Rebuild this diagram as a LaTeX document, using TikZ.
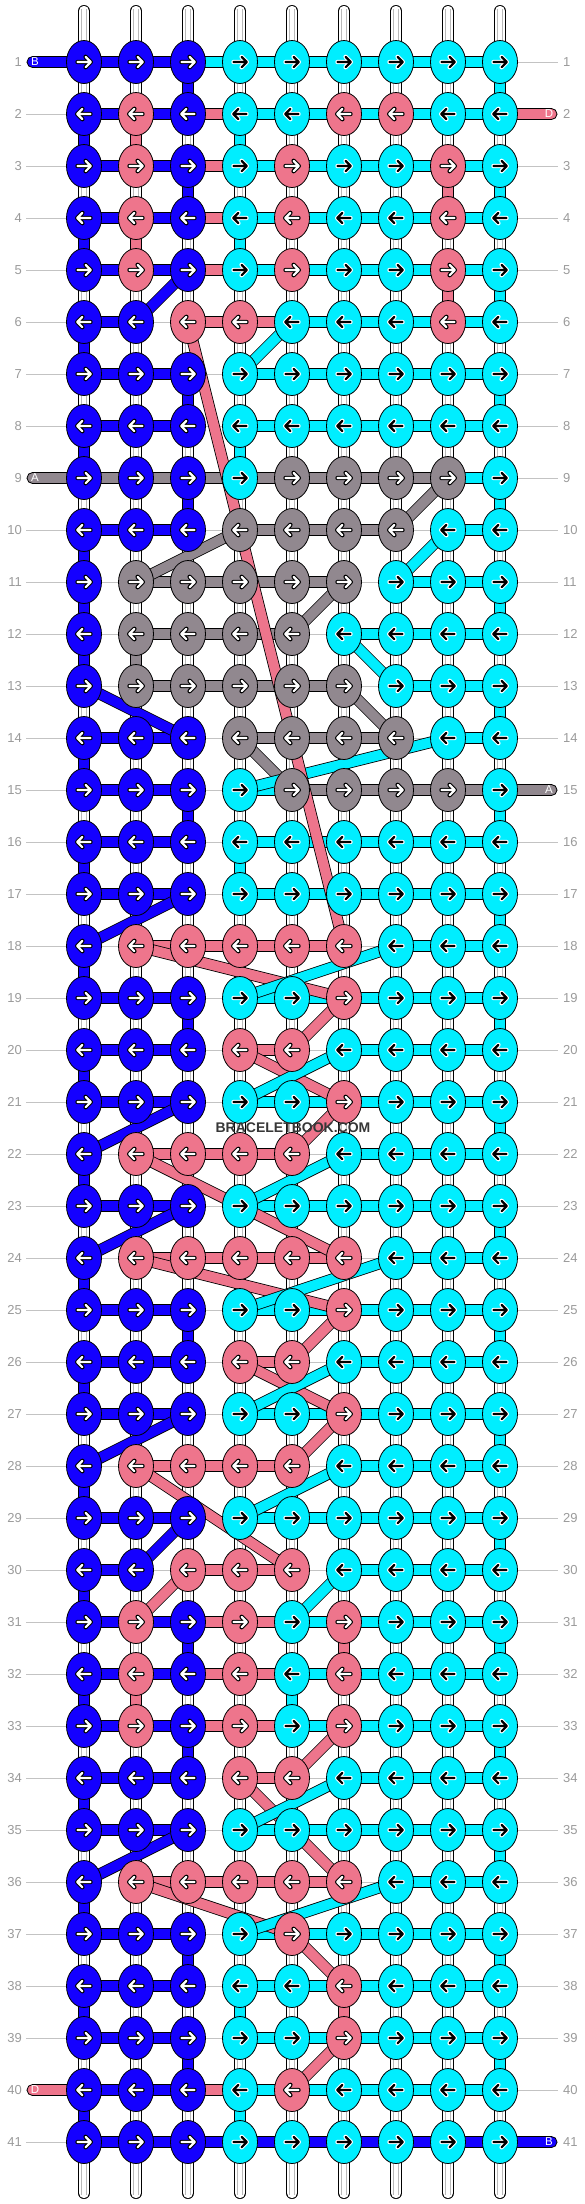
\documentclass[tikz,border=0pt]{standalone}
\usepackage{fontspec}
\setmainfont{Liberation Sans}
\usetikzlibrary{shapes.geometric}
\definecolor{kB}{RGB}{20,0,255}
\definecolor{kC}{RGB}{0,238,255}
\definecolor{kP}{RGB}{238,117,140}
\definecolor{kG}{RGB}{145,136,143}
\definecolor{lblgray}{RGB}{155,155,155}
\definecolor{linegray}{RGB}{195,195,195}
\definecolor{tubegray}{RGB}{185,185,185}
\definecolor{wmark}{RGB}{55,55,55}
\pgfdeclarelayer{warp}
\pgfdeclarelayer{conn}
\pgfsetlayers{warp,conn,main}
\tikzset{
  knot/.style={ellipse, draw=black, line width=0.8pt, minimum width=35pt, minimum height=43pt, inner sep=0pt},
  barB/.style={draw=black, line width=0.8pt, fill=kB},
  barC/.style={draw=black, line width=0.8pt, fill=kC},
  barP/.style={draw=black, line width=0.8pt, fill=kP},
  barG/.style={draw=black, line width=0.8pt, fill=kG},
  barN/.style={},
  aoB/.style={draw=black}, aiB/.style={draw=white},
  aoP/.style={draw=black}, aiP/.style={draw=white},
  aoG/.style={draw=black}, aiG/.style={draw=white},
  aoC/.style={draw=white}, aiC/.style={draw=black},
  arrowline/.style={line cap=round, line join=round},
  rowlbl/.style={text=lblgray, inner sep=0pt, font=\fontsize{13}{13}\selectfont},
  endlbl/.style={text=white, inner sep=0pt, font=\fontsize{11.5}{11.5}\selectfont},
  rowline/.style={draw=linegray, line width=1pt},
}
\def\knotrows{%
1/{B,B,B,C,C,C,C,C,C},
2/{B,P,B,C,C,P,P,C,C},
3/{B,P,B,C,P,C,C,P,C},
4/{B,P,B,C,P,C,C,P,C},
5/{B,P,B,C,P,C,C,P,C},
6/{B,B,P,P,C,C,C,P,C},
7/{B,B,B,C,C,C,C,C,C},
8/{B,B,B,C,C,C,C,C,C},
9/{B,B,B,C,G,G,G,G,C},
10/{B,B,B,G,G,G,G,C,C},
11/{B,G,G,G,G,G,C,C,C},
12/{B,G,G,G,G,C,C,C,C},
13/{B,G,G,G,G,G,C,C,C},
14/{B,B,B,G,G,G,G,C,C},
15/{B,B,B,C,G,G,G,G,C},
16/{B,B,B,C,C,C,C,C,C},
17/{B,B,B,C,C,C,C,C,C},
18/{B,P,P,P,P,P,C,C,C},
19/{B,B,B,C,C,P,C,C,C},
20/{B,B,B,P,P,C,C,C,C},
21/{B,B,B,C,C,P,C,C,C},
22/{B,P,P,P,P,C,C,C,C},
23/{B,B,B,C,C,C,C,C,C},
24/{B,P,P,P,P,P,C,C,C},
25/{B,B,B,C,C,P,C,C,C},
26/{B,B,B,P,P,C,C,C,C},
27/{B,B,B,C,C,P,C,C,C},
28/{B,P,P,P,P,C,C,C,C},
29/{B,B,B,C,C,C,C,C,C},
30/{B,B,P,P,P,C,C,C,C},
31/{B,P,B,P,C,P,C,C,C},
32/{B,P,B,P,C,P,C,C,C},
33/{B,P,B,P,C,P,C,C,C},
34/{B,B,B,P,P,C,C,C,C},
35/{B,B,B,C,C,C,C,C,C},
36/{B,P,P,P,P,P,C,C,C},
37/{B,B,B,C,P,C,C,C,C},
38/{B,B,B,C,C,P,C,C,C},
39/{B,B,B,C,C,P,C,C,C},
40/{B,B,B,C,P,C,C,C,C},
41/{B,B,B,C,C,C,C,C,C}}
\def\barrows{%
1/{B,B,C,C,C,C,C,C},
2/{B,B,P,C,C,C,C,C},
3/{B,B,P,C,C,C,C,C},
4/{B,B,P,C,C,C,C,C},
5/{B,B,P,C,C,C,C,C},
6/{B,N,P,P,C,C,C,C},
7/{B,B,N,C,C,C,C,C},
8/{B,B,N,C,C,C,C,C},
9/{G,G,G,G,G,G,G,C},
10/{B,B,N,G,G,G,N,C},
11/{N,G,G,G,G,N,C,C},
12/{N,G,G,G,N,C,C,C},
13/{N,G,G,G,G,N,C,C},
14/{B,B,N,G,G,G,N,C},
15/{B,B,N,C,G,G,G,G},
16/{B,B,N,C,C,C,C,C},
17/{B,B,N,C,C,C,C,C},
18/{N,P,P,P,P,N,C,C},
19/{B,B,N,C,C,C,C,C},
20/{B,B,N,P,N,C,C,C},
21/{B,B,N,C,C,C,C,C},
22/{N,P,P,P,N,C,C,C},
23/{B,B,N,C,C,C,C,C},
24/{N,P,P,P,P,N,C,C},
25/{B,B,N,C,C,C,C,C},
26/{B,B,N,P,N,C,C,C},
27/{B,B,N,C,C,C,C,C},
28/{N,P,P,P,N,C,C,C},
29/{B,B,N,C,C,C,C,C},
30/{B,N,P,P,N,C,C,C},
31/{B,B,P,P,C,C,C,C},
32/{B,B,P,P,C,C,C,C},
33/{B,B,P,P,C,C,C,C},
34/{B,B,N,P,N,C,C,C},
35/{B,B,N,C,C,C,C,C},
36/{N,P,P,P,P,N,C,C},
37/{B,B,N,C,C,C,C,C},
38/{B,B,N,C,C,C,C,C},
39/{B,B,N,C,C,C,C,C},
40/{B,B,P,C,C,C,C,C},
41/{B,B,B,B,B,B,B,B}}
\begin{document}
\begin{tikzpicture}[x=1pt,y=-1pt]
\useasboundingbox (0,0) rectangle (584,2204);
% knots
\foreach \r/\ks in \knotrows {
  \pgfmathsetmacro\ky{62+52*(\r-1)}
  \pgfmathsetmacro\dirx{ifthenelse(mod(\r,2)==1,1,-1)}
  \foreach \k [count=\c] in \ks {
    \pgfmathsetmacro\kx{84+52*(\c-1)}
    \node[knot, fill=k\k] (k\r-\c) at (\kx,\ky) {};
    \begin{scope}[shift={(k\r-\c.center)}, xscale=\dirx]
      \draw[arrowline, ao\k, line width=4.4pt] (-6.5,0) -- (6.5,0) (1.6,-5.2) -- (6.8,0) -- (1.6,5.2);
      \draw[arrowline, ai\k, line width=2.2pt] (-6.5,0) -- (6.5,0) (1.6,-5.2) -- (6.8,0) -- (1.6,5.2);
    \end{scope}
  }
}
\node[font=\bfseries\fontsize{14}{14}\selectfont, text=wmark, inner sep=0pt] (wm) at (293,1128) {BRACELETBOOK.COM};
% background: labels, row lines, warp tubes
\begin{pgfonlayer}{warp}
  \fill[white] (0,0) rectangle (584,2204);
  \foreach \r in {1,...,41} {
    \pgfmathsetmacro\ky{62+52*(\r-1)}
    \node[rowlbl, anchor=east] (ll\r) at (22,\ky) {\r};
    \node[rowlbl, anchor=west] (lr\r) at (563,\ky) {\r};
    \coordinate (la\r) at (26,\ky);
    \coordinate (lb\r) at (558,\ky);
    \path[rowline] (la\r) -- (lb\r);
  }
  \foreach \c in {1,...,9} {
    \pgfmathsetmacro\kx{84+52*(\c-1)}
    \draw[black, line width=12pt, line cap=round] (\kx,11) -- (\kx,2193);
    \draw[white, line width=10.4pt, line cap=round] (\kx,11) -- (\kx,2193);
    \draw[tubegray, line width=0.7pt] (\kx-2.3,9) -- (\kx-2.3,2195) (\kx+2.3,9) -- (\kx+2.3,2195);
  }
\end{pgfonlayer}
% connectors
\begin{pgfonlayer}{conn}
  % vertical carried threads between rows
  \foreach \r/\c/\k in {1/3/B, 1/9/C, 2/1/B, 2/2/P, 2/4/C, 3/3/B, 3/8/P, 3/9/C,
    4/1/B, 4/2/P, 4/4/C, 5/8/P, 5/9/C, 6/1/B, 7/3/B, 7/9/C, 8/1/B, 8/4/C,
    9/3/B, 9/9/C, 10/1/B, 11/1/B, 11/9/C, 12/1/B, 12/2/G, 13/9/C, 14/1/B,
    15/3/B, 15/9/C, 16/1/B, 16/4/C, 17/9/C, 18/1/B, 19/3/B, 19/9/C, 20/1/B,
    21/9/C, 22/1/B, 23/9/C, 24/1/B, 25/3/B, 25/9/C, 26/1/B, 27/9/C, 28/1/B,
    29/9/C, 30/1/B, 31/3/B, 31/6/P, 31/9/C, 32/1/B, 32/2/P, 32/5/C, 33/3/B,
    33/9/C, 34/1/B, 35/9/C, 36/1/B, 37/3/B, 37/9/C, 38/1/B, 38/4/C, 38/6/P,
    39/3/B, 39/9/C, 40/1/B, 40/4/C} {
    \pgfmathtruncatemacro\rn{\r+1}
    \path[bar\k] ([xshift=-5.5pt]k\r-\c.center) rectangle ([xshift=5.5pt]k\rn-\c.center);
  }
  % horizontal bars
  \foreach \r/\bs in \barrows {
    \foreach \b [count=\c] in \bs {
      \pgfmathtruncatemacro\cn{\c+1}
      \path[bar\b] ([yshift=5.5pt]k\r-\c.center) rectangle ([yshift=-5.5pt]k\r-\cn.center);
    }
  }
  % thread ends
  \coordinate (eL1) at (27,62);
  \coordinate (eR2) at (557,114);
  \coordinate (eL9) at (27,478);
  \coordinate (eR15) at (557,790);
  \coordinate (eL40) at (27,2090);
  \coordinate (eR41) at (557,2142);
  \path[barB, rounded corners=5.5pt] ([yshift=5.5pt]eL1) rectangle ([yshift=-5.5pt]k1-1.center);
  \path[barP, rounded corners=5.5pt] ([yshift=5.5pt]k2-9.center) rectangle ([yshift=-5.5pt]eR2);
  \path[barG, rounded corners=5.5pt] ([yshift=5.5pt]eL9) rectangle ([yshift=-5.5pt]k9-1.center);
  \path[barG, rounded corners=5.5pt] ([yshift=5.5pt]k15-9.center) rectangle ([yshift=-5.5pt]eR15);
  \path[barP, rounded corners=5.5pt] ([yshift=5.5pt]eL40) rectangle ([yshift=-5.5pt]k40-1.center);
  \path[barB, rounded corners=5.5pt] ([yshift=5.5pt]k41-9.center) rectangle ([yshift=-5.5pt]eR41);
  \node[endlbl] (t1) at ([xshift=8pt]eL1) {B};
  \node[endlbl] (t2) at ([xshift=-8pt]eR2) {D};
  \node[endlbl] (t9) at ([xshift=8pt]eL9) {A};
  \node[endlbl] (t15) at ([xshift=-8pt]eR15) {A};
  \node[endlbl] (t40) at ([xshift=8pt]eL40) {D};
  \node[endlbl] (t41) at ([xshift=-8pt]eR41) {B};
  % diagonal threads
  \foreach \ra/\ca/\rb/\cb/\k in {9/8/10/7/G, 10/4/11/2/G, 11/6/12/5/G, 13/6/14/7/G, 14/4/15/5/G,
    5/3/6/2/B, 13/1/14/3/B, 17/3/18/1/B, 21/3/22/1/B, 23/3/24/1/B, 27/3/28/1/B, 29/3/30/2/B, 35/3/36/1/B,
    18/2/19/6/P, 19/6/20/5/P, 20/4/21/6/P, 21/6/22/5/P, 22/2/24/6/P, 24/2/25/6/P, 25/6/26/5/P,
    26/4/27/6/P, 27/6/28/5/P, 28/2/30/5/P, 30/3/31/2/P, 33/6/34/5/P, 34/4/36/6/P, 36/2/37/5/P,
    37/5/38/6/P, 39/6/40/5/P,
    6/5/7/4/C, 10/8/11/7/C, 12/6/13/7/C, 14/8/15/4/C, 18/7/19/4/C, 20/6/21/4/C, 22/6/23/4/C,
    24/7/25/4/C, 26/6/27/4/C, 28/6/29/4/C, 30/6/31/5/C, 34/6/35/4/C, 36/7/37/4/C,
    6/3/18/6/P} {
    \draw[black, line width=11.6pt] (k\ra-\ca.center) -- (k\rb-\cb.center);
    \draw[k\k, line width=10pt] (k\ra-\ca.center) -- (k\rb-\cb.center);
  }
\end{pgfonlayer}
\end{tikzpicture}
\end{document}
